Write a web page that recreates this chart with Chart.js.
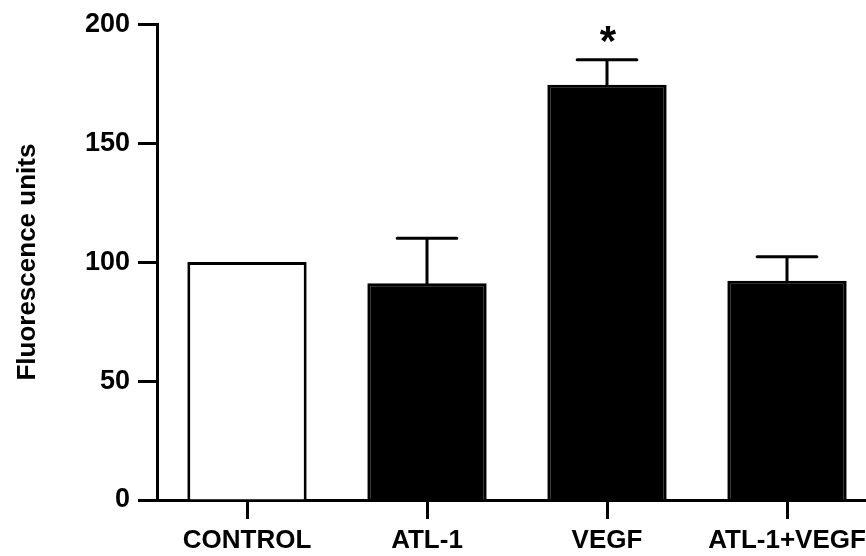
<!DOCTYPE html>
<html>
<head>
<meta charset="utf-8">
<script src="https://cdn.jsdelivr.net/npm/chart.js@4"></script>
<style>
  html, body { margin: 0; padding: 0; background: #fff; overflow: hidden; }
  #wrap { width: 866px; height: 556px; overflow: hidden; }
</style>
</head>
<body>
<div id="wrap"><canvas id="grafica" width="878" height="556"></canvas></div>
<script>
const categorias = ['CONTROL', 'ATL-1', 'VEGF', 'ATL-1+VEGF'];
const medias = [100, 91.1, 174.5, 92.2];
const errores = [0, 18.9, 10.6, 10.0];
const marcas = ['', '', '*', ''];
const rellenos = ['#ffffff', '#000000', '#000000', '#000000'];
const ejeY = { min: 0, max: 200, paso: 50 };
const tituloY = 'Fluorescence units';

const fuente = "'Liberation Sans', Arial, sans-serif";

// barras de error (solo hacia arriba) y asterisco de significancia
const barrasError = {
  id: 'barrasError',
  afterDatasetsDraw(chart) {
    const ctx = chart.ctx;
    const y = chart.scales.y;
    const meta = chart.getDatasetMeta(0);
    ctx.save();
    ctx.strokeStyle = '#000';
    ctx.fillStyle = '#000';
    ctx.lineWidth = 3;
    ctx.lineCap = 'round';
    meta.data.forEach((barra, i) => {
      const x = barra.x;
      const yTop = y.getPixelForValue(medias[i] + errores[i]);
      if (errores[i] > 0) {
        const mitad = barra.width / 4;
        ctx.beginPath();
        ctx.moveTo(x, barra.y);
        ctx.lineTo(x, yTop);
        ctx.moveTo(x - mitad, yTop);
        ctx.lineTo(x + mitad, yTop);
        ctx.stroke();
      }
      if (marcas[i]) {
        ctx.font = 'bold 42px ' + fuente;
        ctx.textAlign = 'center';
        ctx.textBaseline = 'alphabetic';
        ctx.fillText(marcas[i], x + 1, yTop - 5);
      }
    });
    ctx.restore();
  }
};

new Chart(document.getElementById('grafica'), {
  type: 'bar',
  data: {
    labels: categorias,
    datasets: [{
      data: medias,
      backgroundColor: rellenos,
      borderColor: '#000',
      borderWidth: 3,
      borderSkipped: 'start',
      barPercentage: 0.663,
      categoryPercentage: 1
    }]
  },
  options: {
    responsive: false,
    animation: false,
    layout: { padding: { top: 24, left: 0, right: 1, bottom: 0 } },
    plugins: {
      legend: { display: false },
      tooltip: { enabled: false }
    },
    scales: {
      x: {
        offset: true,
        grid: {
          display: true,
          drawOnChartArea: false,
          drawTicks: true,
          tickLength: 19,
          tickWidth: 3,
          tickColor: '#000',
          offset: false
        },
        border: { display: true, color: '#000', width: 3 },
        ticks: {
          color: '#000',
          padding: 6,
          autoSkip: false,
          maxRotation: 0,
          font: { family: fuente, size: 26, weight: 'bold' }
        },
        afterFit(scale) { scale.height = 56; }
      },
      y: {
        min: ejeY.min,
        max: ejeY.max,
        grid: {
          display: true,
          drawOnChartArea: false,
          drawTicks: true,
          tickLength: 19,
          tickWidth: 3,
          tickColor: '#000'
        },
        border: { display: true, color: '#000', width: 3 },
        ticks: {
          stepSize: ejeY.paso,
          color: '#000',
          padding: 8,
          font: { family: fuente, size: 27, weight: 'bold' }
        },
        title: {
          display: true,
          text: tituloY,
          color: '#000',
          padding: { top: 12, bottom: 0 },
          font: { family: fuente, size: 26, weight: 'bold' }
        },
        afterFit(scale) { scale.width = 157; }
      }
    }
  },
  plugins: [barrasError]
});
</script>
</body>
</html>
